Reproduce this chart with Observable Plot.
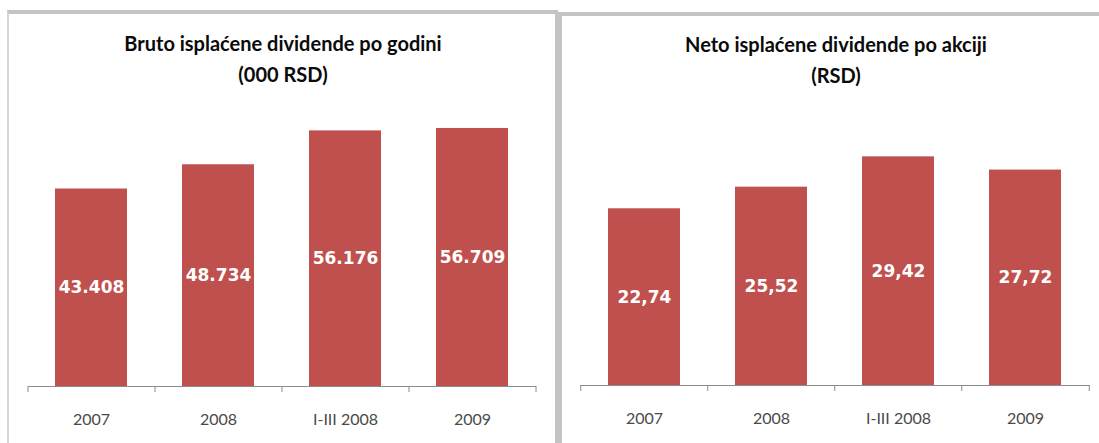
<!DOCTYPE html>
<html>
<head>
<meta charset="utf-8">
<script src="https://cdn.jsdelivr.net/npm/d3@7"></script>
<script src="https://cdn.jsdelivr.net/npm/@observablehq/plot@0.6"></script>
<style>
  html, body { margin: 0; padding: 0; background: #fff; }
  body { width: 1099px; height: 443px; overflow: hidden; position: relative; font-family: Lato, "Open Sans", sans-serif; }
  .panel { position: absolute; box-sizing: border-box; }
  #p1 { left: 7px; top: 10px; width: 551px; height: 440px; border-left: 2px solid #d6d6d6; border-top: 4px solid #c4c4c4; border-right: 3px solid #c4c4c4; }
  #p2 { left: 558px; top: 12px; width: 545px; height: 440px; border-left: 4px solid #c4c4c4; border-top: 4px solid #c4c4c4; }
  .title { position: absolute; text-align: center; font-weight: bold; font-size: 20px; color: #0a0a0a; line-height: 31px; white-space: nowrap; transform: translateX(-50%); }
  .chart { position: absolute; }
</style>
</head>
<body>
<div class="panel" id="p1"></div>
<div class="panel" id="p2"></div>
<div class="title" id="t1" style="left:283px; top:28px;"></div>
<div class="title" id="t2" style="left:836px; top:29px;"></div>
<div class="chart" id="c1" style="left:9px; top:14px;"></div>
<div class="chart" id="c2" style="left:562px; top:16px;"></div>
<script>
// ---- data ----
const categories = ["2007", "2008", "I-III 2008", "2009"];
const brutoValues = [43408, 48734, 56176, 56709];
const netoValues = [22.74, 25.52, 29.42, 27.72];
const brutoTitle = ["Bruto isplaćene dividende po godini", "(000 RSD)"];
const netoTitle = ["Neto isplaćene dividende po akciji", "(RSD)"];
const brutoYMax = 60000;
const netoYMax = 35;

// ---- formatting (Serbian style) ----
const sr = d3.formatLocale({decimal: ",", thousands: ".", grouping: [3], currency: ["", " RSD"]});
const fmtBruto = sr.format(",d");
const fmtNeto = sr.format(",.2f");

document.getElementById("t1").innerHTML = brutoTitle.join("<br>");
document.getElementById("t2").innerHTML = netoTitle.join("<br>");

const BAR = "#c0504d";
const AXIS = "#8c8c8c";

function panel({values, fmt, yMax, width, height, ml, mr, mt, mb}) {
  const data = categories.map((c, i) => ({cat: c, v: values[i]}));
  const plotW = width - ml - mr;
  const plotH = height - mt - mb;
  const step = plotW / categories.length;
  const tickVal = yMax * 6 / plotH;
  return Plot.plot({
    width, height,
    marginLeft: ml, marginRight: mr, marginTop: mt, marginBottom: mb,
    style: {background: "transparent", overflow: "visible"},
    x: {domain: categories, paddingInner: 0.43, paddingOuter: 0.215, axis: null},
    y: {domain: [0, yMax], axis: null},
    marks: [
      Plot.barY(data, {x: "cat", y: "v", fill: BAR}),
      Plot.ruleY([0], {stroke: AXIS, strokeWidth: 1}),
      Plot.ruleX(categories, {x: d => d, y1: 0, y2: -tickVal, dx: -step / 2, stroke: AXIS}),
      Plot.ruleX([categories[categories.length - 1]], {x: d => d, y1: 0, y2: -tickVal, dx: step / 2, stroke: AXIS}),
      Plot.text(data, {x: "cat", y: d => d.v / 2, text: d => fmt(d.v), fill: "white", fontWeight: "bold", fontSize: 17, fontFamily: "DejaVu Sans"}),
      Plot.text(categories, {x: d => d, y: 0, dy: 33, text: d => d, fill: "#4a4a4a", fontSize: 16, fontFamily: "Lato"})
    ]
  });
}

document.getElementById("c1").append(panel({
  values: brutoValues, fmt: fmtBruto, yMax: brutoYMax,
  width: 546, height: 429, ml: 19, mr: 19, mt: 99, mb: 57
}));
document.getElementById("c2").append(panel({
  values: netoValues, fmt: fmtNeto, yMax: netoYMax,
  width: 537, height: 427, ml: 18, mr: 9, mt: 97, mb: 58
}));
</script>
</body>
</html>
